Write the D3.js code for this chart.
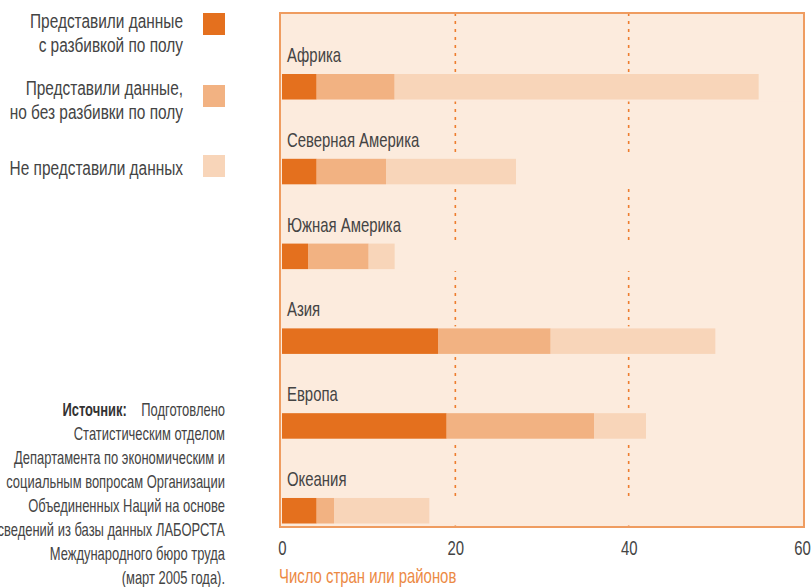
<!DOCTYPE html>
<html>
<head>
<meta charset="utf-8">
<script src="https://cdn.jsdelivr.net/npm/d3@7"></script>
<style>
  body { margin: 0; background: #fff; }
  text { font-family: "Liberation Sans", Arial, sans-serif; }
</style>
</head>
<body>
<svg id="chart_svg" width="811" height="587"></svg>
<script>
// data
var regions = ['Африка', 'Северная Америка', 'Южная Америка', 'Азия', 'Европа', 'Океания'];
var with_sex = [4, 4, 3, 18, 19, 4];
var without_sex = [9, 8, 7, 13, 17, 2];
var no_data = [42, 15, 3, 19, 6, 11];
var series_names = ['Представили данные с разбивкой по полу', 'Представили данные, но без разбивки по полу', 'Не представили данных'];
var x_ticks = [0, 20, 40, 60];
var source_lines = ['Статистическим отделом', 'Департамента по экономическим и', 'социальным вопросам Организации',
  'Объединенных Наций на основе', 'сведений из базы данных ЛАБОРСТА', 'Международного бюро труда', '(март 2005 года).'];

var colours = ['#e4701e', '#f2b282', '#f8d5b9'];
var bg = '#fcebdd';
var text_col = '#444';

// squeeze text horizontally about its own anchor point (fake condensed face)
function condense(sel, s){
  sel.attr('transform', function(){
    var tx = +this.getAttribute('x') || 0, ty = +this.getAttribute('y') || 0;
    return 'translate(' +tx+ ',' +ty+ ') scale(' +s+ ',1) translate(' +(-tx)+ ',' +(-ty)+ ')';
  });
}

var svg = d3.select('#chart_svg');

var x = d3.scaleLinear().domain([0, 60]).range([282, 802]);
var y = d3.scaleBand().domain(regions).range([74, 523.5]).paddingInner(0.699).paddingOuter(0);

/* plot box */
var box = { x0: 280, y0: 13, x1: 804, y1: 527 };
svg.append('rect')
  .attr('x', box.x0).attr('y', box.y0)
  .attr('width', box.x1 - box.x0).attr('height', box.y1 - box.y0)
  .style('fill', bg);

/* dotted grid */
svg.selectAll('.grid').data([20, 40]).enter().append('line')
  .attr('class', 'grid')
  .attr('x1', d => x(d)).attr('x2', d => x(d))
  .attr('y1', box.y0).attr('y2', box.y1)
  .style('stroke', '#ee7d2e').style('stroke-width', 1.6).style('stroke-dasharray', '3 5');

/* stacked rows */
var rows = regions.map((r, i) => {
  var v = [with_sex[i], without_sex[i], no_data[i]];
  var start = 0;
  return { region: r, parts: v.map((d, k) => { var p = { x0: start, x1: start + d, k: k }; start += d; return p; }) };
});

var row_g = svg.selectAll('.row').data(rows).enter().append('g').attr('class', 'row');

// knock out grid behind each bar
row_g.append('rect')
  .attr('x', box.x0 + 1).attr('y', d => y(d.region) - 2)
  .attr('width', box.x1 - box.x0 - 2).attr('height', y.bandwidth() + 4)
  .style('fill', bg);

row_g.selectAll('.seg').data(d => d.parts.map(p => Object.assign({ region: d.region }, p))).enter().append('rect')
  .attr('class', 'seg')
  .attr('x', d => x(d.x0)).attr('y', d => y(d.region))
  .attr('width', d => x(d.x1) - x(d.x0)).attr('height', y.bandwidth())
  .style('fill', d => colours[d.k]);

row_g.append('text')
  .attr('x', 287).attr('y', d => y(d.region) - 12)
  .style('font-size', '21px').style('fill', text_col)
  .text(d => d.region)
  .call(condense, 0.71);

/* box border */
svg.append('rect')
  .attr('x', box.x0).attr('y', box.y0)
  .attr('width', box.x1 - box.x0).attr('height', box.y1 - box.y0)
  .style('fill', 'none').style('stroke', '#ef9c60').style('stroke-width', 2);

/* x axis */
var x_axis = svg.append('g').attr('transform', 'translate(0,' + box.y1 + ')')
  .call(d3.axisBottom(x).tickValues(x_ticks).tickSize(0).tickPadding(13));
x_axis.select('.domain').remove();
x_axis.selectAll('text').style('font-size', '21px').style('fill', text_col)
  .style('font-family', '"Liberation Sans", Arial, sans-serif')
  .attr('transform', 'scale(0.71,1)');

svg.append('text')
  .attr('x', 279).attr('y', 583)
  .style('font-size', '21px').style('fill', '#ec8a45')
  .text('Число стран или районов')
  .call(condense, 0.71);

/* legend */
var legend = [
  { lines: ['Представили данные', 'с разбивкой по полу'], y: 28, sy: 13 },
  { lines: ['Представили данные,', 'но без разбивки по полу'], y: 95, sy: 85 },
  { lines: ['Не представили данных'], y: 175, sy: 155 }
];
var leg_g = svg.selectAll('.legend').data(legend).enter().append('g').attr('class', 'legend');
leg_g.append('rect')
  .attr('x', 203).attr('y', d => d.sy).attr('width', 22).attr('height', 22)
  .style('fill', (d, i) => colours[i]);
var leg_text = leg_g.append('text')
  .attr('text-anchor', 'end').attr('x', 183).attr('y', d => d.y)
  .style('font-size', '21px').style('fill', text_col)
  .attr('aria-label', (d, i) => series_names[i]);
leg_text.selectAll('tspan').data(d => d.lines).enter().append('tspan')
  .attr('x', 183).attr('dy', (d, i) => i ? 24 : 0)
  .text(d => d);
leg_text.call(condense, 0.735);

/* source note */
var src = svg.append('text')
  .attr('text-anchor', 'end').attr('x', 225).attr('y', 416)
  .style('font-size', '18px').style('fill', text_col);
var first = src.append('tspan').attr('x', 225);
first.append('tspan').style('font-weight', 'bold').style('fill', '#333').text('Источник:');
first.append('tspan').text('\u00a0\u00a0\u00a0 Подготовлено');
src.selectAll('.src').data(source_lines).enter().append('tspan')
  .attr('class', 'src').attr('x', 225).attr('dy', 24)
  .text(d => d);
src.call(condense, 0.72);
</script>
</body>
</html>
